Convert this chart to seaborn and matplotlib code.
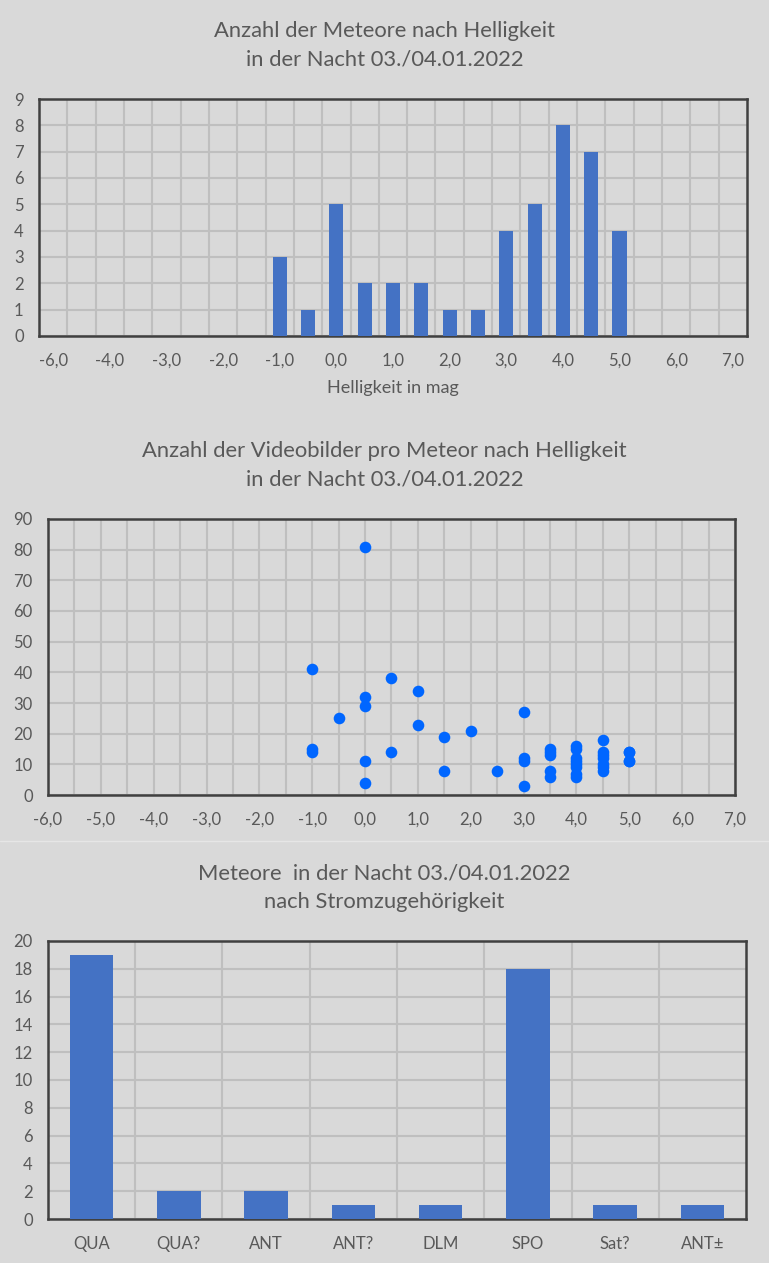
import numpy as np
import pandas as pd
import seaborn as sns
import matplotlib.pyplot as plt
from matplotlib.ticker import MultipleLocator

sns.set_theme(style="white")
plt.rcParams['font.family'] = ['Lato', 'DejaVu Sans']

# DATEN
# Diagramm 1: Anzahl der Meteore nach Helligkeit
mag_kat = [-6.0, -5.0, -4.0, -3.5, -3.0, -2.5, -2.0, -1.5, -1.0, -0.5, 0.0, 0.5,
           1.0, 1.5, 2.0, 2.5, 3.0, 3.5, 4.0, 4.5, 5.0, 5.5, 6.0, 6.5, 7.0]
anzahl = [0, 0, 0, 0, 0, 0, 0, 0, 3, 1, 5, 2, 2, 2, 1, 1, 4, 5, 8, 7, 4, 0, 0, 0, 0]

# Diagramm 2: Videobilder pro Meteor
hell = [-1.0, -1.0, -1.0,
        -0.5,
        0.0, 0.0, 0.0, 0.0, 0.0,
        0.5, 0.5,
        1.0, 1.0,
        1.5, 1.5,
        2.0,
        2.5,
        3.0, 3.0, 3.0, 3.0,
        3.5, 3.5, 3.5, 3.5, 3.5,
        4.0, 4.0, 4.0, 4.0, 4.0, 4.0, 4.0, 4.0,
        4.5, 4.5, 4.5, 4.5, 4.5, 4.5, 4.5,
        5.0, 5.0, 5.0, 5.0]
bilder = [41, 15, 14,
          25,
          81, 32, 29, 11, 4,
          38, 14,
          34, 23,
          19, 8,
          21,
          8,
          27, 12, 11, 3,
          15, 14, 13, 8, 6,
          16, 15, 12, 11, 10, 9, 7, 6,
          18, 14, 13, 12, 10, 9, 8,
          14, 14, 11, 11]

# Diagramm 3: Stromzugehoerigkeit
stroeme = ["QUA", "QUA?", "ANT", "ANT?", "DLM", "SPO", "Sat?", "ANT±"]
strom_anzahl = [19, 2, 2, 1, 1, 18, 1, 1]

# FARBEN
BG = "#d9d9d9"
TXT = "#595959"
GRID = "#bfbfbf"
RAHMEN = "#404040"
BALKEN = "#4472c4"
PUNKT = "#0066ff"


def fmt(v):
    return f"{v:.1f}".replace(".", ",")


def stil(ax):
    ax.set_facecolor(BG)
    for s in ax.spines.values():
        s.set_color(RAHMEN)
        s.set_linewidth(1.8)
    ax.tick_params(axis='both', which='both', length=0, labelsize=12, colors=TXT)
    ax.tick_params(axis='y', pad=11)
    ax.tick_params(axis='x', pad=12)
    ax.set_xlabel("")
    ax.set_ylabel("")


fig = plt.figure(figsize=(7.69, 12.63), dpi=100, facecolor=BG)

# --- Diagramm 1
ax1 = fig.add_axes([0.0507, 0.7340, 0.9207, 0.1876])
df1 = pd.DataFrame({"mag": [fmt(v) for v in mag_kat], "n": anzahl})
sns.barplot(data=df1, x="mag", y="n", order=df1["mag"], color=BALKEN,
            width=0.5, saturation=1, linewidth=0, edgecolor="none", ax=ax1, zorder=3)
stil(ax1)
ax1.set_xlim(-0.5, len(mag_kat) - 0.5)
ax1.set_ylim(0, 9)
ax1.yaxis.set_major_locator(MultipleLocator(1))
ax1.set_xticks(range(0, len(mag_kat), 2))
ax1.set_xticklabels([fmt(v) for v in mag_kat[::2]])
ax1.set_xticks(np.arange(0.5, len(mag_kat) - 1, 1), minor=True)
ax1.grid(True, axis='y', which='major', color=GRID, lw=1.5, zorder=0)
ax1.grid(True, axis='x', which='minor', color=GRID, lw=1.5, zorder=0)
ax1.set_xlabel("Helligkeit in mag", fontsize=13, color=TXT, labelpad=8)

# --- Diagramm 2
ax2 = fig.add_axes([0.0624, 0.3705, 0.8934, 0.2186])
sns.scatterplot(x=hell, y=bilder, color=PUNKT, s=70, linewidth=0, ax=ax2, zorder=3)
stil(ax2)
ax2.set_xlim(-6, 7)
ax2.set_ylim(0, 90)
ax2.xaxis.set_minor_locator(MultipleLocator(0.5))
ax2.yaxis.set_major_locator(MultipleLocator(10))
ax2.set_xticks(np.arange(-6, 7.5, 1))
ax2.set_xticklabels([fmt(v) for v in np.arange(-6, 7.5, 1)])
ax2.grid(True, axis='y', which='major', color=GRID, lw=1.5, zorder=0)
ax2.grid(True, axis='x', which='both', color=GRID, lw=1.5, zorder=0)

# --- Diagramm 3
ax3 = fig.add_axes([0.0624, 0.0348, 0.9077, 0.2202])
sns.barplot(x=stroeme, y=strom_anzahl, order=stroeme, color=BALKEN,
            width=0.5, saturation=1, linewidth=0, edgecolor="none", ax=ax3, zorder=3)
stil(ax3)
ax3.set_xlim(-0.5, len(stroeme) - 0.5)
ax3.set_ylim(0, 20)
ax3.yaxis.set_major_locator(MultipleLocator(2))
ax3.set_xticks(np.arange(0.5, len(stroeme) - 1, 1), minor=True)
ax3.grid(True, axis='y', which='major', color=GRID, lw=1.5, zorder=0)
ax3.grid(True, axis='x', which='minor', color=GRID, lw=1.5, zorder=0)

# Titel
tkw = dict(ha='center', va='center', fontsize=15.8, color=TXT)
fig.text(0.5, 1 - 31 / 1263, "Anzahl der Meteore nach Helligkeit", **tkw)
fig.text(0.5, 1 - 59 / 1263, "in der Nacht 03./04.01.2022", **tkw)
fig.text(0.5, 1 - 451 / 1263, "Anzahl der Videobilder pro Meteor nach Helligkeit", **tkw)
fig.text(0.5, 1 - 480 / 1263, "in der Nacht 03./04.01.2022", **tkw)
fig.text(0.5, 1 - 873 / 1263, "Meteore  in der Nacht 03./04.01.2022", **tkw)
fig.text(0.5, 1 - 902 / 1263, "nach Stromzugehörigkeit", **tkw)

# Trennlinie zwischen Diagramm 2 und 3
fig.add_artist(plt.Line2D([0, 1], [1 - 841 / 1263] * 2, color="#e6e6e6", lw=1))

fig.savefig("out.png", dpi=100, facecolor=BG)
